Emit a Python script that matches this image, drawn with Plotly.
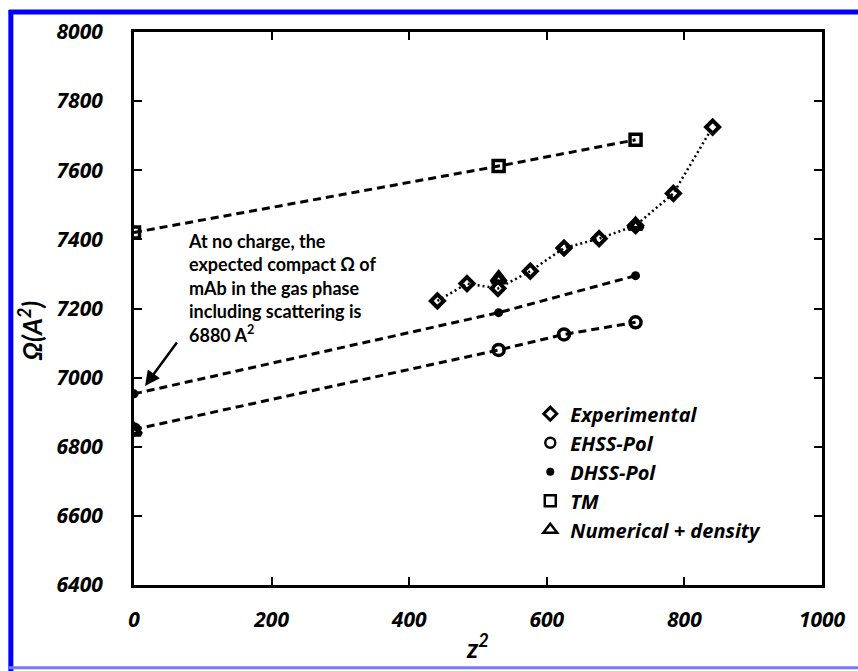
import plotly.graph_objects as go

# ---- data ----
exp_x = [441, 484, 529, 576, 625, 676, 729, 784, 841]
exp_y = [7222, 7272, 7258, 7308, 7375, 7402, 7440, 7533, 7725]
ehss_x = [0, 530, 625, 729]
ehss_y = [6850, 7080, 7125, 7160]
dhss_x = [0, 530, 729]
dhss_y = [6953, 7188, 7295]
tm_x = [0, 530, 729]
tm_y = [7420, 7612, 7688]
num_x = [0, 530, 729]
num_y = [6845, 7285, 7440]
x_ticks = [0, 200, 400, 600, 800, 1000]
y_ticks = [6400, 6600, 6800, 7000, 7200, 7400, 7600, 7800, 8000]

TICKF = dict(family="Open Sans", weight="bold", style="italic", color="black")
LEGF = dict(family="Open Sans", weight="bold", style="italic", color="black")

DASH = "8px,5px"
DOT = "2px,3px"

fig = go.Figure()

# data traces
fig.add_trace(go.Scatter(x=tm_x, y=tm_y, mode="lines+markers", showlegend=False,
                         line=dict(color="black", width=3, dash=DASH),
                         marker=dict(symbol="square-open", size=11, color="black", line=dict(width=3.5))))
fig.add_trace(go.Scatter(x=ehss_x, y=ehss_y, mode="lines+markers", showlegend=False,
                         line=dict(color="black", width=3, dash=DASH),
                         marker=dict(symbol="circle-open", size=11, color="black", line=dict(width=3.5))))
fig.add_trace(go.Scatter(x=dhss_x, y=dhss_y, mode="lines+markers", showlegend=False,
                         line=dict(color="black", width=3, dash=DASH),
                         marker=dict(symbol="circle", size=9, color="black")))
fig.add_trace(go.Scatter(x=exp_x, y=exp_y, mode="lines+markers", showlegend=False,
                         line=dict(color="black", width=2.5, dash=DOT),
                         marker=dict(symbol="diamond-open", size=10, color="black", line=dict(width=4))))
fig.add_trace(go.Scatter(x=num_x, y=num_y, mode="markers", showlegend=False,
                         marker=dict(symbol="triangle-up-open", size=12, color="black", line=dict(width=5))))

# legend-only entries (markers only, as in the reference legend)
leg = [("Experimental", "diamond-open", 10, 3),
       ("EHSS-Pol", "circle-open", 10, 2.5),
       ("DHSS-Pol", "circle", 8, 0),
       ("TM", "square-open", 11, 2.5),
       ("Numerical + density", "triangle-up-open", 12, 2.5)]
for name, sym, sz, lw in leg:
    fig.add_trace(go.Scatter(x=[None], y=[None], mode="markers", name=name,
                             marker=dict(symbol=sym, size=sz, color="black", line=dict(width=lw, color="black"))))

# annotation with arrow
fig.add_annotation(x=16, y=6976, xref="x", yref="y", text="", showarrow=True,
                   ax=33, ay=-45, arrowhead=2, arrowsize=1.2, arrowwidth=2.5, arrowcolor="black")
fig.add_annotation(x=76, y=7432, xref="x", yref="y", xanchor="left", yanchor="top",
                   showarrow=False, align="left",
                   text="At no charge, the<br>expected compact Ω of<br>mAb in the gas phase<br>including scattering is<br>6880 A<sup>2</sup>",
                   font=dict(family="Lato", weight="bold", size=18, color="black"))

# y axis title (placed as annotation to match its position)
fig.add_annotation(x=-0.150, y=0.46, xref="paper", yref="paper", showarrow=False,
                   xanchor="center", yanchor="middle",
                   text="Ω(A<sup>2</sup>)", textangle=-90,
                   font=dict(size=26, family="Lato", weight="bold", style="italic", color="black"))

# blue outer border (left & top strong blue, bottom lighter)
fig.add_shape(type="line", xref="paper", yref="paper", x0=-0.179, x1=-0.179, y0=-0.16, y1=1.04,
              line=dict(color="#0000FF", width=5), layer="above")
fig.add_shape(type="line", xref="paper", yref="paper", x0=-0.182, x1=1.06, y0=1.036, y1=1.036,
              line=dict(color="#0000FF", width=5), layer="above")
fig.add_shape(type="line", xref="paper", yref="paper", x0=-0.182, x1=1.06, y0=-0.1495, y1=-0.1495,
              line=dict(color="#7878FF", width=3), layer="above")

axis_common = dict(showline=True, linecolor="black", linewidth=3, mirror="ticks",
                   ticks="inside", ticklen=8, tickwidth=2, tickcolor="black",
                   showgrid=False, zeroline=False, tickfont=dict(size=21, **TICKF))

fig.update_xaxes(range=[0, 1000], tickvals=x_ticks, ticktext=[str(v) for v in x_ticks],
                 ticklabelstandoff=14,
                 title=dict(text="z<sup>2</sup>", font=dict(size=26, family="Lato", weight="bold",
                                                            style="italic", color="black"), standoff=8),
                 **axis_common)
fig.update_yaxes(range=[6400, 8000], tickvals=y_ticks, ticktext=[str(v) for v in y_ticks],
                 ticklabelstandoff=24,
                 **axis_common)

fig.update_layout(
    width=858, height=671,
    margin=dict(l=134, r=28, t=32, b=84),
    plot_bgcolor="white", paper_bgcolor="white",
    legend=dict(x=0.576, y=0.345, xanchor="left", yanchor="top",
                font=dict(size=20, **LEGF), bgcolor="rgba(0,0,0,0)",
                itemwidth=30, tracegroupgap=0),
)

fig.write_html("out.html")
